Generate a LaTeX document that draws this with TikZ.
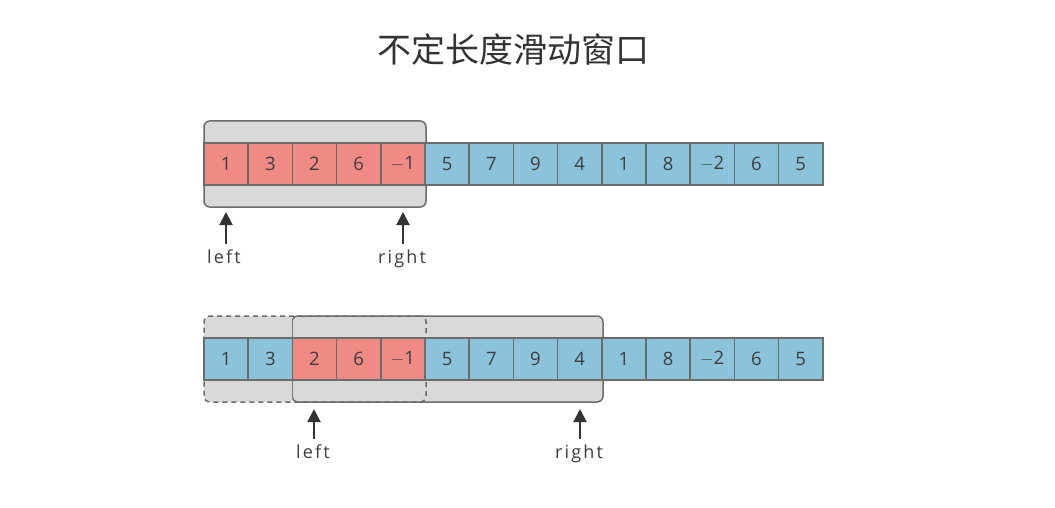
\documentclass[tikz,border=0pt]{standalone}
\usepackage{fontspec}
\setmainfont{Open Sans}
\newfontfamily\cjk{Noto Sans CJK SC}
\newfontfamily\lblfont[LetterSpace=12]{Open Sans}
\usetikzlibrary{arrows.meta}
\definecolor{cellred}{HTML}{F08A84}
\definecolor{cellblue}{HTML}{8BC3DA}
\definecolor{winfill}{HTML}{D9D9D9}
\definecolor{edgegray}{HTML}{6B6B6B}
\definecolor{txt}{HTML}{3D3D3D}
\begin{document}
\begin{tikzpicture}[x=1pt,y=-1pt,
  cell/.style={draw=edgegray, line width=1.5pt, minimum width=44.2pt, minimum height=42pt, inner sep=0pt, text=txt, font=\fontsize{18.5}{18.5}\selectfont},
  win/.style={draw=edgegray, fill=winfill, line width=1.5pt, rounded corners=6pt, minimum height=86pt, inner sep=0pt},
  lbl/.style={text=txt, font=\lblfont\fontsize{18}{18}\selectfont, inner sep=0pt, anchor=base},
  ptr/.style={draw=black!80, line width=2pt, -{Triangle[width=13pt,length=13pt]}}
]
\useasboundingbox (0,0) rectangle (1055,508);
\node[text=black!80, font=\cjk\fontsize{34}{34}\selectfont] (title) at (513,50) {不定长度滑动窗口};

% top window
\node[win, minimum width=222pt] (wt) at (315,164) {};
% bottom windows
\node[win, minimum width=311pt] (wb) at (447.5,359) {};
\begin{scope}
\clip (204,316) rectangle (292,402);
\node[win, minimum width=222pt, draw=none] at (315,359) {};
\end{scope}
\node[win, minimum width=222pt, dash pattern=on 5pt off 4pt, fill=none] (wd) at (315,359) {};

% top row
\foreach \v/\c [count=\i] in {1/cellred,3/cellred,2/cellred,6/cellred,$-$1/cellred,5/cellblue,7/cellblue,9/cellblue,4/cellblue,1/cellblue,8/cellblue,$-$2/cellblue,6/cellblue,5/cellblue}{
  \node[cell, fill=\c] (t\i) at ({204+22.1+44.2*(\i-1)},164) {\v};
}
% bottom row
\foreach \v/\c [count=\i] in {1/cellblue,3/cellblue,2/cellred,6/cellred,$-$1/cellred,5/cellblue,7/cellblue,9/cellblue,4/cellblue,1/cellblue,8/cellblue,$-$2/cellblue,6/cellblue,5/cellblue}{
  \node[cell, fill=\c] (b\i) at ({204+22.1+44.2*(\i-1)},359) {\v};
}

% pointers
\node[lbl] (tl) at (224,263) {left};
\node[lbl] (tr) at (402,263) {right};
\node[lbl] (bl) at (313,458) {left};
\node[lbl] (br) at (579,458) {right};
\coordinate (tla) at (226,212);
\coordinate (tra) at (403,212);
\coordinate (bla) at (314,409);
\coordinate (bra) at (580,409);
\draw[ptr] (226,244) -- (tla);
\draw[ptr] (403,244) -- (tra);
\draw[ptr] (314,439) -- (bla);
\draw[ptr] (580,439) -- (bra);
\end{tikzpicture}
\end{document}
